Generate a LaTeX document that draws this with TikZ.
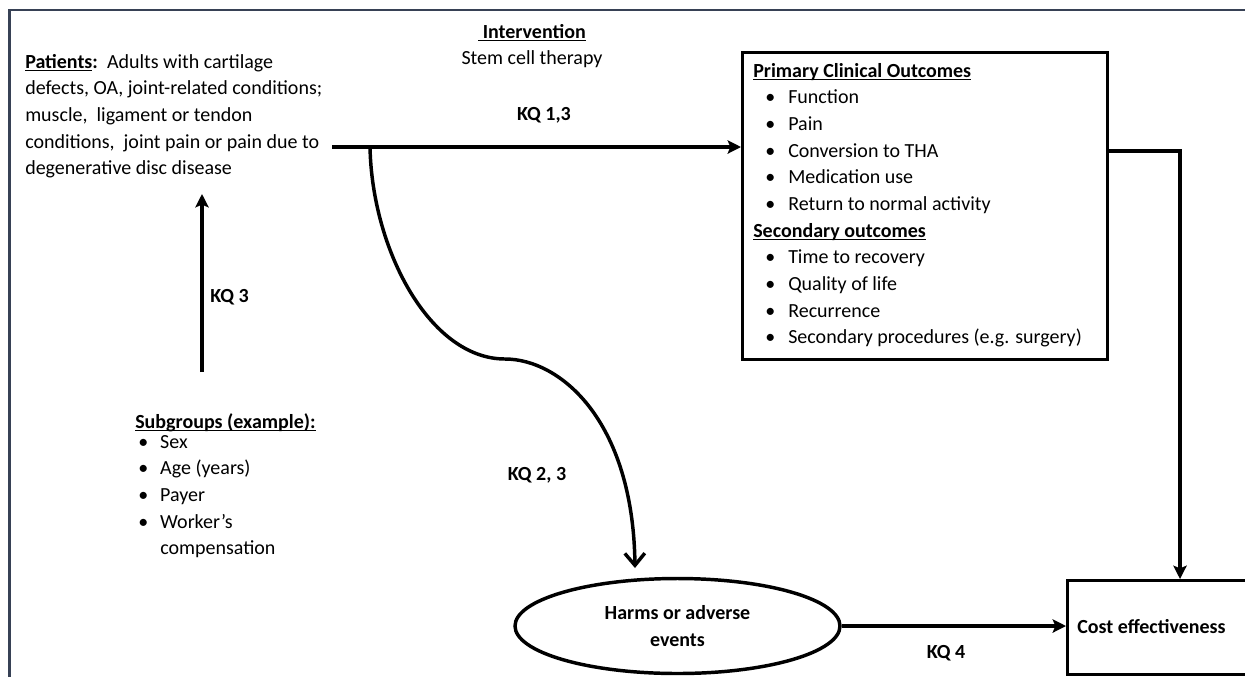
\documentclass[tikz,border=0pt]{standalone}
\usepackage{fontspec}
\setmainfont{Carlito}
\usetikzlibrary{arrows.meta,shapes.geometric}
\newsavebox\ulbox
\newcommand\undl[1]{\sbox\ulbox{#1}\rlap{\rule[-2.2pt]{\wd\ulbox}{0.9pt}}\usebox\ulbox}
\newcommand\bul[1]{\makebox[#1][l]{\textbullet}}
\definecolor{framec}{RGB}{55,65,85}
\tikzset{
  txt/.style={inner sep=0pt, font=\fontsize{15}{20}\selectfont, text=black},
  arr/.style={line width=2.6pt, -{Stealth[length=10pt,width=10pt,inset=2pt]}},
  barr/.style={line width=2.6pt, -{Straight Barb[length=9pt,width=15pt]}},
  boxline/.style={draw, line width=2.6pt, inner sep=0pt},
}
\begin{document}
\begin{tikzpicture}[x=0.75pt,y=-0.75pt]
\useasboundingbox (0,0) rectangle (1245,676);
\fill[white] (0,0) rectangle (1245,676);
% frame
\draw[framec, line width=1.6pt] (9.5,690) -- (9.5,10) -- (1260,10);

% patients
\node[txt, anchor=base west] (patients) at (25,68) {\begin{tabular}[t]{@{}l@{}}
\undl{\textbf{Patients}}\textbf{:}\ \ Adults with cartilage\\
defects, OA, joint-related conditions;\\
muscle,\ \ ligament or tendon\\
conditions,\ \ joint pain or pain due to\\
degenerative disc disease
\end{tabular}};

% intervention
\node[txt, anchor=base] (interv) at (532,38) {\begin{tabular}[t]{@{}c@{}}
\undl{\textbf{\ Intervention}}\\
Stem cell therapy
\end{tabular}};

% outcomes box
\node[boxline, rectangle, anchor=north west, minimum width=273.75pt, minimum height=230.25pt] (outbox) at (741,51) {};
\node[txt, anchor=base west] (outtext) at (753,77) {\begin{tabular}[t]{@{}l@{}}
\undl{\textbf{Primary Clinical Outcomes}}\\
\hspace{9pt}\bul{17.25pt}Function\\
\hspace{9pt}\bul{17.25pt}Pain\\
\hspace{9pt}\bul{17.25pt}Conversion to THA\\
\hspace{9pt}\bul{17.25pt}Medication use\\
\hspace{9pt}\bul{17.25pt}Return to normal activity\\
\undl{\textbf{Secondary outcomes}}\\
\hspace{9pt}\bul{17.25pt}Time to recovery\\
\hspace{9pt}\bul{17.25pt}Quality of life\\
\hspace{9pt}\bul{17.25pt}Recurrence\\
\hspace{9pt}\bul{17.25pt}Secondary procedures (e.g. surgery)
\end{tabular}};

% subgroups
\node[txt, anchor=base west] (subgroups) at (135,428) {\begin{tabular}[t]{@{}l@{}}
\undl{\textbf{Subgroups (example):}}\\[-5pt]
\hspace{2.25pt}\bul{16.5pt}Sex\\
\hspace{2.25pt}\bul{16.5pt}Age (years)\\
\hspace{2.25pt}\bul{16.5pt}Payer\\
\hspace{2.25pt}\bul{16.5pt}Worker’s\\
\hspace{18.75pt}compensation
\end{tabular}};

% harms ellipse
\node[boxline, ellipse, minimum width=243.75pt, minimum height=71.25pt, align=center,
      font=\fontsize{15}{20}\selectfont\bfseries] (harms) at (677.5,626) {Harms or adverse\\events};

% cost box (runs past the right edge of the picture)
\node[boxline, rectangle, anchor=north west, minimum width=300pt, minimum height=70.5pt] (cost) at (1066,579) {};
\node[txt, anchor=base west, font=\fontsize{15}{20}\selectfont\bfseries] (costlabel) at (1077,633) {Cost effectiveness};

% labels
\node[txt, anchor=base, font=\fontsize{15}{20}\selectfont\bfseries] (kq13) at (544,120) {KQ 1,3};
\node[txt, anchor=base west, font=\fontsize{15}{20}\selectfont\bfseries] (kq3) at (210,302) {KQ 3};
\node[txt, anchor=base, font=\fontsize{15}{20}\selectfont\bfseries] (kq23) at (537,480) {KQ 2, 3};
\node[txt, anchor=base, font=\fontsize{15}{20}\selectfont\bfseries] (kq4) at (946,658) {KQ 4};

% coordinates
\coordinate (start) at (332,147);
\coordinate (branch) at (370,147);
\coordinate (bend) at (505,359);
\coordinate (kq2end) at (635,568);
\coordinate (elbow) at (1180,151);
\coordinate (k3s) at (202,372);
\coordinate (k3e) at (202,194);

% connectors
\draw[arr] (start) -- (start -| outbox.west);
\draw[barr] (branch) .. controls (372,250) and (430,359) .. (bend)
   .. controls (560,359) and (633,420) .. (kq2end);
\draw[arr] (k3s) -- (k3e);
\draw[arr] (outbox.east |- elbow) -- (elbow) -- (elbow |- cost.north);
\draw[arr] (harms) -- (cost.west |- harms);
\end{tikzpicture}
\end{document}
